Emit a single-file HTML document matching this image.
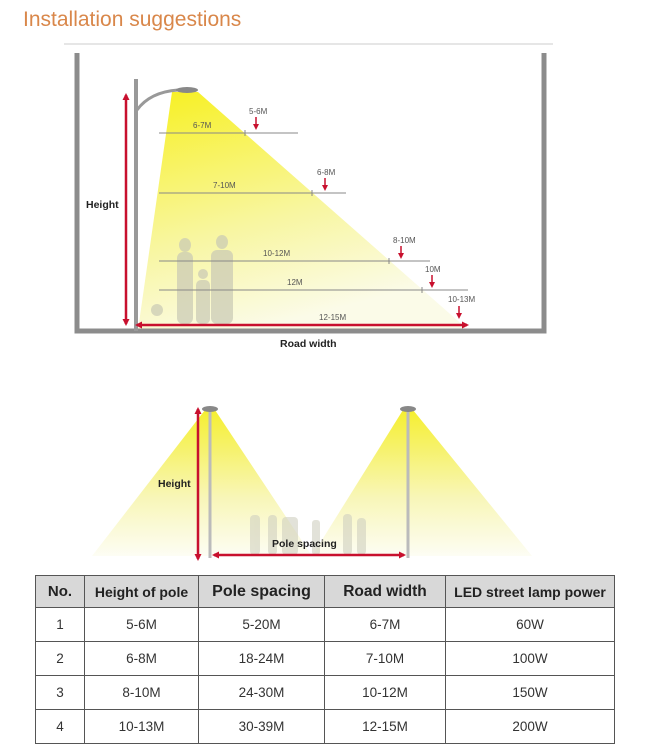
<!DOCTYPE html>
<html><head><meta charset="utf-8"><style>
body{margin:0;width:650px;height:750px;background:#fff;overflow:hidden;font-family:"Liberation Sans",Arial,sans-serif;}
svg{position:absolute;left:0;top:0}
table{position:absolute;left:35px;top:575px;border-collapse:collapse;font-family:"Liberation Sans",sans-serif;}
td,th{border:1.5px solid #555;text-align:center;color:#333;font-size:13.5px;padding:0;}
th{background:#d8d8d8;font-weight:bold;color:#222;height:31px;font-size:15px;}
td{height:33px;}
</style></head><body>
<svg width="650" height="750" viewBox="0 0 650 750">
<defs>
<linearGradient id="g1" x1="0" y1="0" x2="0.35" y2="1">
<stop offset="0" stop-color="#f7f020"/><stop offset="0.6" stop-color="#f8f6a0"/><stop offset="1" stop-color="#fbfbe8"/></linearGradient>
<linearGradient id="g2" x1="0" y1="0" x2="0" y2="1">
<stop offset="0" stop-color="#f5ef30"/><stop offset="0.6" stop-color="#f8f6b8"/><stop offset="1" stop-color="#fdfdf4"/></linearGradient>
<marker id="ah" markerUnits="userSpaceOnUse" markerWidth="7" markerHeight="7" refX="5" refY="3.5" orient="auto-start-reverse"><path d="M0,0 L7,3.5 L0,7 z" fill="#c8102e"/></marker>
<marker id="as" markerUnits="userSpaceOnUse" markerWidth="6" markerHeight="6" refX="4" refY="3" orient="auto"><path d="M0,0 L6,3 L0,6 z" fill="#c8102e"/></marker>
</defs>
<text x="23" y="26" font-size="21" fill="#d9874a">Installation suggestions</text>
<line x1="64" y1="44" x2="553" y2="44" stroke="#ccc" stroke-width="1"/>
<polygon points="172,92 198,92 466,328 138,330" fill="url(#g1)"/>
<path d="M77,53 V331 H544 V53" fill="none" stroke="#8c8c8c" stroke-width="5"/>
<line x1="136" y1="79" x2="136" y2="331" stroke="#999" stroke-width="4"/>
<path d="M137,110 Q150,92 178,90" fill="none" stroke="#999" stroke-width="3"/>
<ellipse cx="187" cy="90" rx="11" ry="3" fill="#888"/>
<g fill="#c9c9b5" opacity="0.7">
<ellipse cx="185" cy="245" rx="6" ry="7"/><rect x="177" y="252" width="16" height="72" rx="6"/>
<ellipse cx="222" cy="242" rx="6" ry="7"/><rect x="211" y="250" width="22" height="74" rx="6"/>
<ellipse cx="203" cy="274" rx="5" ry="5"/><rect x="196" y="280" width="14" height="44" rx="5"/>
<ellipse cx="157" cy="310" rx="6" ry="6"/>
</g>
<g stroke="#888" stroke-width="1">
<line x1="159" y1="133" x2="298" y2="133"/><line x1="159" y1="193" x2="346" y2="193"/>
<line x1="159" y1="261" x2="430" y2="261"/><line x1="159" y1="290" x2="468" y2="290"/>
<line x1="245" y1="130" x2="245" y2="136"/><line x1="312" y1="190" x2="312" y2="196"/>
<line x1="389" y1="258" x2="389" y2="264"/><line x1="422" y1="287" x2="422" y2="293"/>
</g>
<g stroke="#c8102e" stroke-width="1.5" marker-end="url(#as)">
<line x1="256" y1="117" x2="256" y2="128"/><line x1="325" y1="178" x2="325" y2="189"/>
<line x1="401" y1="246" x2="401" y2="257"/><line x1="432" y1="275" x2="432" y2="286"/>
<line x1="459" y1="306" x2="459" y2="317"/>
</g>
<g stroke="#c8102e" stroke-width="2.5" marker-end="url(#ah)" marker-start="url(#ah)">
<line x1="126" y1="95" x2="126" y2="324"/>
<line x1="137" y1="325" x2="467" y2="325"/>
</g>
<g font-size="8" fill="#555">
<text x="193" y="128">6-7M</text><text x="249" y="114">5-6M</text>
<text x="213" y="188">7-10M</text><text x="317" y="175">6-8M</text>
<text x="263" y="256">10-12M</text><text x="393" y="243">8-10M</text>
<text x="287" y="285">12M</text><text x="425" y="272">10M</text>
<text x="319" y="320">12-15M</text><text x="448" y="302">10-13M</text>
</g>
<text x="86" y="208" font-size="10.5" font-weight="bold" fill="#222">Height</text>
<text x="280" y="347" font-size="10.5" font-weight="bold" fill="#222">Road width</text>
<polygon points="205,410 215,410 312,556 92,556" fill="url(#g2)"/>
<polygon points="403,410 413,410 532,556 312,556" fill="url(#g2)"/>
<g fill="#d0d0c0" opacity="0.6">
<rect x="250" y="515" width="10" height="40" rx="4"/><rect x="268" y="515" width="9" height="40" rx="4"/>
<rect x="282" y="517" width="16" height="38" rx="4"/><rect x="312" y="520" width="8" height="35" rx="3"/>
<rect x="343" y="514" width="9" height="41" rx="4"/><rect x="357" y="518" width="9" height="37" rx="4"/>
</g>
<line x1="210" y1="410" x2="210" y2="558" stroke="#bbb" stroke-width="3"/>
<line x1="408" y1="410" x2="408" y2="558" stroke="#bbb" stroke-width="3"/>
<ellipse cx="210" cy="409" rx="8" ry="3" fill="#888"/>
<ellipse cx="408" cy="409" rx="8" ry="3" fill="#888"/>
<g stroke="#c8102e" stroke-width="2.5" marker-end="url(#ah)" marker-start="url(#ah)">
<line x1="198" y1="409" x2="198" y2="559"/>
<line x1="214" y1="555" x2="404" y2="555"/>
</g>
<text x="158" y="487" font-size="10.5" font-weight="bold" fill="#222">Height</text>
<text x="272" y="547" font-size="10.5" font-weight="bold" fill="#222">Pole spacing</text>
</svg>
<table>
<tr><th style="width:48px">No.</th><th style="width:113px;font-size:14px">Height of pole</th><th style="width:125px;font-size:16px">Pole spacing</th><th style="width:120px;font-size:15.5px">Road width</th><th style="width:168px;font-size:14px">LED street lamp power</th></tr>
<tr><td>1</td><td>5-6M</td><td>5-20M</td><td>6-7M</td><td>60W</td></tr>
<tr><td>2</td><td>6-8M</td><td>18-24M</td><td>7-10M</td><td>100W</td></tr>
<tr><td>3</td><td>8-10M</td><td>24-30M</td><td>10-12M</td><td>150W</td></tr>
<tr><td>4</td><td>10-13M</td><td>30-39M</td><td>12-15M</td><td>200W</td></tr>
</table>
</body></html>
